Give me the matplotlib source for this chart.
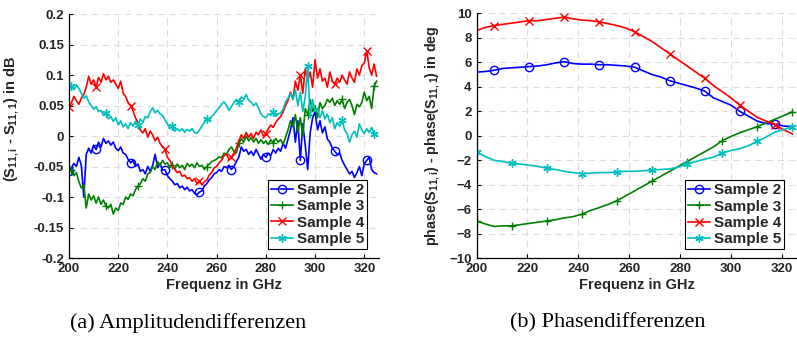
import numpy as np
import matplotlib
matplotlib.use("Agg")
from matplotlib import pyplot as plt

plt.rcParams['font.family'] = ['Liberation Sans', 'DejaVu Sans']
plt.rcParams['font.weight'] = 'bold'
plt.rcParams['mathtext.fontset'] = 'custom'
plt.rcParams['mathtext.rm'] = 'Liberation Sans:bold'
plt.rcParams['mathtext.it'] = 'Liberation Sans:bold'
plt.rcParams['mathtext.bf'] = 'Liberation Sans:bold'

# ---- (a) amplitude differences, 1 GHz steps 200..325
freq_amp = list(range(200, 326))

s2_amp = [-0.058, -0.052, -0.045, -0.050, -0.035, -0.048, -0.100, -0.030, -0.020, -0.028,
          -0.015, -0.022, -0.010, -0.018, -0.004, -0.012, -0.008, -0.015, -0.010, -0.020,
          -0.024, -0.018, -0.028, -0.030, -0.038, -0.044, -0.040, -0.050, -0.046, -0.058,
          -0.055, -0.062, -0.050, -0.058, -0.048, -0.030, -0.052, -0.045, -0.056, -0.055,
          -0.065, -0.070, -0.074, -0.080, -0.078, -0.085, -0.082, -0.088, -0.084, -0.090,
          -0.088, -0.094, -0.096, -0.092, -0.090, -0.082, -0.078, -0.072, -0.068, -0.062,
          -0.060, -0.055, -0.058, -0.050, -0.052, -0.048, -0.055, -0.050, -0.042, -0.035,
          -0.018, -0.025, -0.022, -0.030, -0.025, -0.032, -0.022, -0.030, -0.038, -0.030,
          -0.035, -0.028, -0.032, -0.022, -0.028, -0.020, -0.025, -0.012, -0.020, -0.005,
          0.010, 0.030, -0.010, 0.025, -0.040, 0.020, -0.015, -0.055, 0.005, 0.030,
          0.040, 0.010, 0.025, 0.005, 0.015, -0.005, -0.010, -0.020, -0.025, -0.030,
          -0.028, -0.040, -0.048, -0.055, -0.062, -0.058, -0.068, -0.060, -0.050, -0.065,
          -0.045, -0.040, -0.035, -0.055, -0.060, -0.062]

s3_amp = [-0.060, -0.055, -0.065, -0.060, -0.075, -0.085, -0.080, -0.118, -0.095, -0.105,
          -0.098, -0.110, -0.100, -0.112, -0.105, -0.115, -0.118, -0.112, -0.128, -0.118,
          -0.122, -0.110, -0.112, -0.100, -0.104, -0.095, -0.098, -0.088, -0.082, -0.078,
          -0.070, -0.074, -0.062, -0.060, -0.050, -0.055, -0.042, -0.048, -0.040, -0.046,
          -0.044, -0.052, -0.048, -0.054, -0.046, -0.052, -0.048, -0.055, -0.045, -0.050,
          -0.046, -0.052, -0.044, -0.050, -0.048, -0.055, -0.050, -0.046, -0.042, -0.040,
          -0.038, -0.034, -0.036, -0.028, -0.030, -0.022, -0.018, -0.025, -0.028, -0.012,
          -0.004, -0.010, 0.000, -0.008, -0.002, -0.010, -0.004, -0.012, -0.006, -0.012,
          -0.008, -0.014, -0.006, -0.012, -0.004, -0.010, -0.006, -0.014, -0.002, 0.010,
          0.025, 0.015, 0.035, 0.005, 0.030, 0.000, 0.045, 0.035, 0.060, 0.040,
          0.050, 0.030, 0.055, 0.045, 0.050, 0.060, 0.055, 0.062, 0.050, 0.058,
          0.052, 0.060, 0.045, 0.055, 0.060, 0.050, 0.035, 0.052, 0.048, 0.055,
          0.072, 0.058, 0.065, 0.045, 0.082, 0.090]

s4_amp = [0.048, 0.055, 0.065, 0.058, 0.052, 0.062, 0.068, 0.080, 0.098, 0.085,
          0.092, 0.080, 0.096, 0.088, 0.102, 0.092, 0.098, 0.088, 0.092, 0.085,
          0.078, 0.090, 0.070, 0.065, 0.055, 0.050, 0.042, 0.030, 0.022, 0.010,
          0.005, 0.012, -0.002, 0.008, 0.002, -0.008, -0.002, -0.012, -0.018, -0.022,
          -0.035, -0.040, -0.050, -0.055, -0.060, -0.058, -0.066, -0.064, -0.070, -0.068,
          -0.074, -0.070, -0.078, -0.074, -0.080, -0.075, -0.072, -0.064, -0.060, -0.052,
          -0.050, -0.044, -0.040, -0.032, -0.030, -0.038, -0.035, -0.028, -0.020, -0.008,
          0.002, -0.004, 0.006, -0.002, 0.004, -0.004, 0.006, 0.002, 0.010, 0.000,
          0.004, 0.012, 0.018, 0.014, 0.022, 0.028, 0.032, 0.040, 0.050, 0.058,
          0.072, 0.060, 0.090, 0.075, 0.100, 0.070, 0.110, 0.090, 0.105, 0.080,
          0.125, 0.095, 0.110, 0.090, 0.095, 0.080, 0.105, 0.090, 0.085, 0.095,
          0.088, 0.100, 0.092, 0.085, 0.105, 0.095, 0.088, 0.110, 0.100, 0.115,
          0.120, 0.140, 0.112, 0.100, 0.118, 0.098]

s5_amp = [0.078, 0.082, 0.076, 0.084, 0.078, 0.070, 0.062, 0.066, 0.056, 0.050,
          0.044, 0.048, 0.040, 0.042, 0.034, 0.038, 0.028, 0.032, 0.024, 0.030,
          0.018, 0.025, 0.015, 0.020, 0.012, 0.022, 0.016, 0.024, 0.018, 0.028,
          0.022, 0.032, 0.030, 0.040, 0.046, 0.038, 0.042, 0.036, 0.034, 0.026,
          0.020, 0.012, 0.016, 0.008, 0.012, 0.008, 0.012, 0.006, 0.011, 0.008,
          0.012, 0.006, 0.004, 0.010, 0.016, 0.022, 0.028, 0.026, 0.032, 0.036,
          0.042, 0.046, 0.052, 0.056, 0.050, 0.042, 0.048, 0.055, 0.060, 0.056,
          0.064, 0.060, 0.068, 0.058, 0.056, 0.050, 0.054, 0.046, 0.036, 0.032,
          0.030, 0.036, 0.034, 0.040, 0.032, 0.036, 0.038, 0.044, 0.056, 0.062,
          0.070, 0.060, 0.075, 0.050, 0.072, 0.040, 0.065, 0.115, 0.030, 0.060,
          0.040, 0.045, 0.030, 0.042, 0.028, 0.036, 0.022, 0.030, 0.012, 0.022,
          0.016, 0.026, 0.010, 0.004, -0.010, 0.002, 0.008, -0.002, 0.020, 0.010,
          0.004, 0.012, 0.006, 0.014, 0.004, 0.004]

# marker positions (indices into freq_amp)
mk_a1 = [0, 11, 25, 39, 53, 66, 80, 94, 108, 121]
mk_a2 = [1, 15, 28, 42, 56, 69, 83, 97, 111, 124]

# ---- (b) phase differences
freq_ph = list(np.round(200 + 3.45 * np.arange(37), 2))

s2_ph = [5.2, 5.25, 5.35, 5.5, 5.55, 5.6, 5.65, 5.7, 5.8, 5.95,
         6.05, 5.9, 5.85, 5.85, 5.8, 5.8, 5.75, 5.7, 5.6, 5.3,
         5.0, 4.8, 4.5, 4.3, 4.1, 3.9, 3.65, 3.1, 2.8, 2.5,
         2.0, 1.6, 1.2, 1.0, 0.95, 0.8, 0.75]
s3_ph = [-6.95, -7.2, -7.4, -7.35, -7.35, -7.25, -7.15, -7.05, -6.95, -6.85,
         -6.7, -6.6, -6.4, -6.1, -5.85, -5.6, -5.3, -4.9, -4.5, -4.1,
         -3.7, -3.3, -2.9, -2.5, -2.1, -1.7, -1.3, -0.9, -0.4, -0.05,
         0.25, 0.5, 0.75, 1.05, 1.35, 1.65, 1.95]
s4_ph = [8.6, 8.85, 9.0, 9.1, 9.2, 9.3, 9.4, 9.4, 9.5, 9.6,
         9.7, 9.55, 9.45, 9.4, 9.3, 9.15, 9.0, 8.8, 8.5, 8.1,
         7.7, 7.2, 6.7, 6.2, 5.7, 5.2, 4.7, 4.1, 3.6, 3.1,
         2.5, 2.0, 1.5, 1.2, 0.9, 0.5, 0.15]
s5_ph = [-1.3, -1.7, -2.0, -2.1, -2.25, -2.3, -2.4, -2.5, -2.65, -2.75,
         -2.9, -3.0, -3.1, -3.05, -3.0, -3.0, -2.95, -2.9, -2.9, -2.85,
         -2.8, -2.75, -2.7, -2.55, -2.3, -2.1, -1.9, -1.75, -1.4, -1.2,
         -1.05, -0.8, -0.45, -0.1, 0.3, 0.5, 0.75]

labels = ['Sample 2', 'Sample 3', 'Sample 4', 'Sample 5']
colors = ['#0000ff', '#008000', '#ff0000', '#00bfbf']
markers = ['o', '+', 'x', (6, 2, 0)]

fig = plt.figure(figsize=(7.97, 3.37), dpi=100)
ax1 = fig.add_axes([0.0866, 0.2344, 0.389, 0.724])
ax2 = fig.add_axes([0.598, 0.2335, 0.402, 0.727])


def style(ax, yticks):
    ax.set_xlim(200, 326)
    ax.set_xticks([200, 220, 240, 260, 280, 300, 320])
    ax.set_yticks(yticks)
    ax.set_ylim(yticks[0], yticks[-1])
    ax.grid(True, color='#dcdcdc', linestyle=(0, (6, 4)), linewidth=0.8)
    ax.set_axisbelow(True)
    for s in ['top', 'right']:
        ax.spines[s].set_visible(False)
    for s in ['left', 'bottom']:
        ax.spines[s].set_linewidth(0.9)
    ax.tick_params(direction='in', length=3, width=0.8, labelsize=9.5,
                   labelcolor='#262626')
    for t in ax.get_xticklabels() + ax.get_yticklabels():
        t.set_fontweight('bold')
    ax.set_xlabel('Frequenz in GHz', fontsize=10.5, fontweight='bold',
                  color='#262626', labelpad=2)


amp = [s2_amp, s3_amp, s4_amp, s5_amp]
for i in range(4):
    mk = mk_a1 if i in (0, 2) else mk_a2
    ax1.plot(freq_amp, amp[i], color=colors[i], lw=1.2, marker=markers[i],
             markevery=mk, ms=6, mew=1.0, mfc='none', label=labels[i])
style(ax1, [-0.2, -0.15, -0.1, -0.05, 0, 0.05, 0.1, 0.15, 0.2])
ax1.set_yticklabels(['-0.2', '-0.15', '-0.1', '-0.05', '0', '0.05', '0.1', '0.15', '0.2'])
ax1.set_ylabel('(S$_{11,i}$ - S$_{11,1}$) in dB', fontsize=10.5, fontweight='bold',
               color='#262626')
ax1.yaxis.set_label_coords(-0.155, 0.57)

ph = [s2_ph, s3_ph, s4_ph, s5_ph]
for i in range(4):
    mk = (2, 4) if i in (0, 2) else (0, 4)
    ax2.plot(freq_ph, ph[i], color=colors[i], lw=1.2, marker=markers[i],
             markevery=mk, ms=6, mew=1.0, mfc='none', label=labels[i])
style(ax2, list(range(-10, 11, 2)))
ax2.set_ylabel('phase(S$_{11,i}$) - phase(S$_{11,1}$) in deg', fontsize=10.3,
               fontweight='bold', color='#262626')
ax2.yaxis.set_label_coords(-0.108, 0.5)

for ax, x in [(ax1, 0.961), (ax2, 0.959)]:
    leg = ax.legend(loc='lower right', bbox_to_anchor=(x, 0.037), fontsize=11,
                    fancybox=False, framealpha=1, edgecolor='black',
                    handlelength=1.45, handletextpad=0.25, borderpad=0.2,
                    labelspacing=0.15, borderaxespad=0)
    leg.get_frame().set_linewidth(0.8)
    for t in leg.get_texts():
        t.set_fontweight('bold')
        t.set_color('#262626')

fig.text(188 / 797, 1 - 323 / 337, '(a) Amplitudendifferenzen', ha='center', va='center',
         fontsize=16, family=['Liberation Serif', 'DejaVu Serif'], fontweight='normal')
fig.text(608 / 797, 1 - 323 / 337, '(b) Phasendifferenzen', ha='center', va='center',
         fontsize=16, family=['Liberation Serif', 'DejaVu Serif'], fontweight='normal')

fig.savefig('out.png', dpi=100)
